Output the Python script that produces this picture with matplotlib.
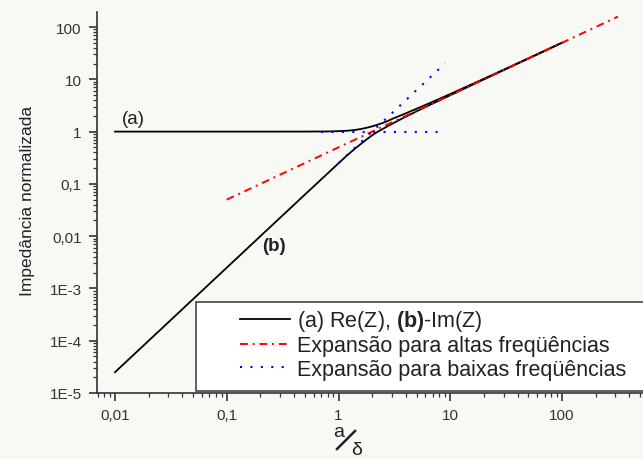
import matplotlib
matplotlib.use("Agg")
import matplotlib.pyplot as plt
from matplotlib.lines import Line2D
from matplotlib.patches import Rectangle
from matplotlib.ticker import FixedLocator, LogLocator, NullFormatter

plt.rcParams['font.family'] = ['Liberation Sans', 'DejaVu Sans']
plt.rcParams['mathtext.fontset'] = 'custom'
plt.rcParams['mathtext.rm'] = 'Liberation Sans'
plt.rcParams['mathtext.bf'] = 'Liberation Sans:bold'

# values (log-log, a/delta on x)
x_curve = [0.01, 0.1, 0.3, 0.5, 0.8, 1.0, 1.2, 1.4, 1.6, 1.8, 2.0, 2.2, 2.5,
           2.8, 3.0, 3.5, 4.0, 5.0, 7.0, 10.0, 20.0, 50.0, 100.0]
re_z = [1.0, 1.0, 1.0, 1.001, 1.007, 1.02, 1.04, 1.075, 1.125, 1.19, 1.26,
        1.34, 1.47, 1.62, 1.74, 1.99, 2.24, 2.74, 3.74, 5.24, 10.24, 25.24, 50.24]
im_z = [2.5e-5, 2.5e-3, 0.0225, 0.0624, 0.159, 0.248, 0.355, 0.47, 0.59, 0.72,
        0.85, 0.97, 1.13, 1.30, 1.40, 1.67, 1.93, 2.45, 3.46, 4.97, 9.98, 24.99, 50.0]

x_high = [0.1, 316.0]
y_high = [0.05, 158.0]

x_low_re = [0.7, 9.0]
y_low_re = [1.0, 1.0]
x_low_im = [1.0, 9.0]
y_low_im = [0.25, 20.25]

xticks = [0.01, 0.1, 1, 10, 100]
xtick_labels = ["0,01", "0,1", "1", "10", "100"]
yticks = [1e-5, 1e-4, 1e-3, 0.01, 0.1, 1, 10, 100]
ytick_labels = ["1E-5", "1E-4", "1E-3", "0,01", "0,1", "1", "10", "100"]

W, H = 643, 460
fig = plt.figure(figsize=(W / 100, H / 100), dpi=100, facecolor="#f8f8f5")
ax = fig.add_axes([97 / W, (H - 394) / H, (W - 97) / W, (394 - 13) / H])
ax.set_facecolor("#f8f8f5")
ax.set_xscale("log")
ax.set_yscale("log")
ax.set_xlim(0.0069, 530)
ax.set_ylim(1e-5, 194)

ax.plot(x_curve, re_z, color="black", lw=1.3, label="(a) Re(Z), $\\mathbf{(b)}$-Im(Z)")
ax.plot(x_curve, im_z, color="black", lw=1.3)
ax.plot(x_high, y_high, color="red", lw=1.4, ls=(0, (4, 2.5, 1, 2.5)),
        label="Expansão para altas freqüências")
ax.plot(x_low_re, y_low_re, color="blue", lw=1.5, ls=(0, (1, 4)),
        label="Expansão para baixas freqüências")
ax.plot(x_low_im, y_low_im, color="blue", lw=1.5, ls=(0, (1, 4)))

for s in ("top", "right"):
    ax.spines[s].set_visible(False)
for s in ("left", "bottom"):
    ax.spines[s].set_linewidth(1.2)
    ax.spines[s].set_color("#333333")

ax.xaxis.set_major_locator(FixedLocator(xticks))
ax.set_xticklabels(xtick_labels)
ax.yaxis.set_major_locator(FixedLocator(yticks))
ax.set_yticklabels(ytick_labels)
ax.xaxis.set_minor_locator(LogLocator(base=10, subs=range(2, 10), numticks=20))
ax.yaxis.set_minor_locator(LogLocator(base=10, subs=range(2, 10), numticks=20))
ax.xaxis.set_minor_formatter(NullFormatter())
ax.yaxis.set_minor_formatter(NullFormatter())
ax.tick_params(which="major", direction="out", length=6, width=1.2,
               labelsize=11, colors="#333333", pad=5)
ax.tick_params(which="minor", direction="out", length=3, width=0.9, colors="#333333")

ax.text(0.0145, 1.77, "(a)", fontsize=13.5, ha="center", va="center", color="#222222")
ax.text(0.263, 0.0066, "(b)", fontsize=13.5, fontweight="bold", ha="center",
        va="center", color="#222222")

fig.text(28 / W, 1 - 201 / H, "Impedância normalizada", rotation=90, fontsize=12.5,
         ha="center", va="center", color="#222222")
# x label drawn as a/δ with a slanted bar
fig.text(339 / W, 1 - 433 / H, "a", fontsize=14, ha="center", va="center", color="#222222")
fig.text(357 / W, 1 - 451 / H, "δ", fontsize=14, ha="center", va="center", color="#222222")
fig.add_artist(Line2D([337 / W, 355 / W], [1 - 450 / H, 1 - 432 / H],
                      transform=fig.transFigure, color="#222222", lw=1.8))

# legend frame, running off the right edge like the reference
ax.add_patch(Rectangle((196 / W, 1 - 392 / H), (W - 190) / W, 89 / H,
                       transform=fig.transFigure, facecolor="white",
                       edgecolor="#444444", lw=1.2, zorder=6, clip_on=False))
leg = ax.legend(loc="center left", bbox_to_anchor=(240 / W, 1 - 345 / H),
                bbox_transform=fig.transFigure, fontsize=15.5, frameon=False,
                handlelength=2.3, handletextpad=0.36, labelspacing=0.1,
                borderpad=0, borderaxespad=0)
leg.set_zorder(7)
for t in leg.get_texts():
    t.set_color("#222222")

fig.savefig("out.png", dpi=100, facecolor=fig.get_facecolor())
